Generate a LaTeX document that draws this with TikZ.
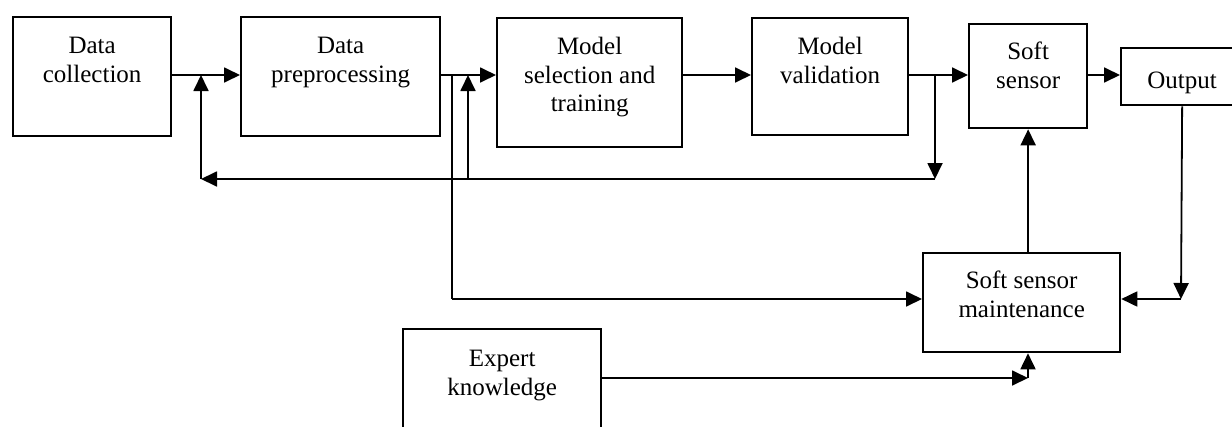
\documentclass[tikz,border=0pt]{standalone}
\usepackage{fontspec}
\setmainfont{Liberation Serif}
\usetikzlibrary{arrows.meta}
\begin{document}
\begin{tikzpicture}[x=1pt,y=-1pt,
  box/.style={draw, line width=2.3pt, inner sep=0pt, anchor=north west},
  lbl/.style={font=\fontsize{25}{28.5}\selectfont, align=center, inner sep=0pt, anchor=north},
  arr/.style={line width=1.8pt, -{Triangle[length=16pt,width=15pt]}},
  ln/.style={line width=1.8pt}]
\clip (0,0) rectangle (1232,426);
\fill[white] (0,0) rectangle (1232,426);
% boxes
\node[box, minimum width=158pt, minimum height=119pt] (dc) at (12,16) {};
\node[box, minimum width=199pt, minimum height=119pt] (dp) at (240,16) {};
\node[box, minimum width=185pt, minimum height=129pt] (ms) at (496,17) {};
\node[box, minimum width=156pt, minimum height=117pt] (mv) at (751,17) {};
\node[box, minimum width=118pt, minimum height=104pt] (ss) at (968,23) {};
\node[box, minimum width=122pt, minimum height=57pt] (out) at (1120,47) {};
\node[box, minimum width=197pt, minimum height=99pt] (ssm) at (922,252) {};
\node[box, minimum width=198pt, minimum height=115pt] (ek) at (402,328) {};
% labels
\node[lbl] (dct) at (dc.north |- 0,37) {Data\\collection};
\node[lbl] (dpt) at (dp.north |- 0,37) {Data\\preprocessing};
\node[lbl] (mst) at (ms.north |- 0,37) {Model\\selection and\\training};
\node[lbl] (mvt) at (mv.north |- 0,37) {Model\\validation};
\node[lbl] (sst) at (ss.north |- 0,42) {Soft\\sensor};
\node[lbl] (outt) at (out.north |- 0,72) {Output};
\node[lbl] (ssmt) at (ssm.north |- 0,271) {Soft sensor\\maintenance};
\node[lbl] (ekt) at (ek.north |- 0,350) {Expert\\knowledge};
% coordinates
\coordinate (r) at (0,75);
\coordinate (fbA) at (935,75);
\coordinate (fbB) at (935,179);
\coordinate (fbC) at (201,179);
\coordinate (fbD) at (201,75);
\coordinate (fbE) at (468,179);
\coordinate (fbF) at (468,75);
\coordinate (mA) at (452,75);
\coordinate (mB) at (452,299);
\coordinate (oB) at (1181,299);
\coordinate (eB) at (1028,378);
% main row
\draw[arr] (dc.east |- r) -- (dp.west |- r);
\draw[arr] (dp.east |- r) -- (ms.west |- r);
\draw[arr] (ms.east |- r) -- (mv.west |- r);
\draw[arr] (mv.east |- r) -- (ss.west |- r);
\draw[arr] (ss.east |- r) -- (out.west |- r);
% feedback
\draw[arr] (fbA) -- (fbB);
\draw[arr] (fbB) -- (fbC);
\draw[arr] (fbC) -- (fbD);
\draw[arr] (fbE) -- (fbF);
% to maintenance
\draw[ln] (mA) -- (mB);
\draw[arr] (mB) -- (ssm.west |- mB);
\draw[arr] (out.south) -- (oB);
\draw[arr] (oB) -- (ssm.east |- oB);
\draw[arr] (ssm.north -| ss.south) -- (ss.south);
\draw[arr] (ek.east |- eB) -- (eB);
\draw[arr] (eB) -- (ssm.south -| eB);
\end{tikzpicture}
\end{document}
